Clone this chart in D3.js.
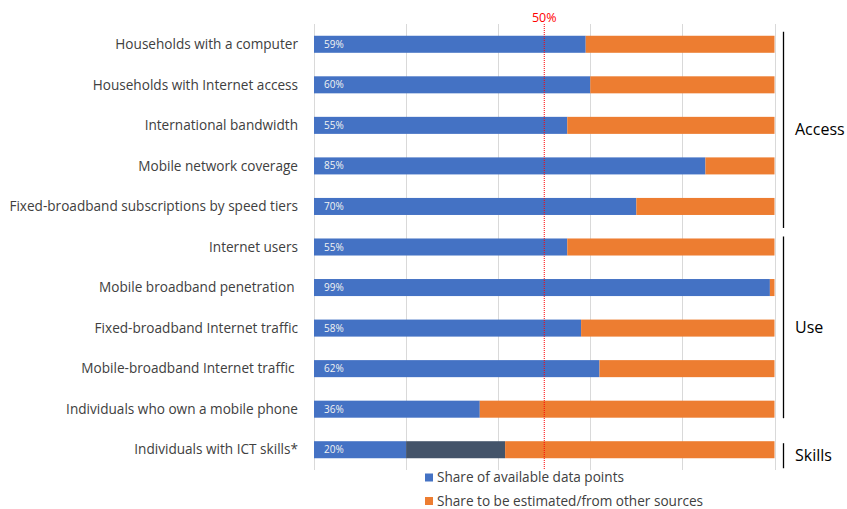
<!DOCTYPE html>
<html>
<head>
<meta charset="utf-8">
<script src="https://cdn.jsdelivr.net/npm/d3@7"></script>
<style>
  body { margin: 0; background: #fff; }
  svg text { font-family: "Open Sans", Lato, sans-serif; }
</style>
</head>
<body>
<div class="chart"></div>
<script>
// categories, top to bottom
var categories = [
  "Households with a computer",
  "Households with Internet access",
  "International bandwidth",
  "Mobile network coverage",
  "Fixed-broadband subscriptions by speed tiers",
  "Internet users",
  "Mobile broadband penetration ",
  "Fixed-broadband Internet traffic",
  "Mobile-broadband Internet traffic ",
  "Individuals who own a mobile phone",
  "Individuals with ICT skills*"
];
// share of available data points (labelled)
var available = [0.59, 0.60, 0.55, 0.85, 0.70, 0.55, 0.99, 0.58, 0.62, 0.36, 0.20];
// extra unlabelled segment (only on the skills row)
var extra = [0, 0, 0, 0, 0, 0, 0, 0, 0, 0, 0.215];
// share to be estimated / from other sources
var estimated = [0.41, 0.40, 0.45, 0.15, 0.30, 0.45, 0.01, 0.42, 0.38, 0.64, 0.585];

var ticks = [0, 0.2, 0.4, 0.6, 0.8, 1];
var groups = [
  {name: "Access", from: 0, to: 4},
  {name: "Use", from: 5, to: 9},
  {name: "Skills", from: 10, to: 10}
];
var legendItems = ["Share of available data points", "Share to be estimated/from other sources"];

var width = 847, height = 509;
var colors = {available: "#4472C4", extra: "#44546A", estimated: "#ED7D31"};

var svg = d3.select(".chart").append("svg")
    .attr("width", width)
    .attr("height", height);

var x = d3.scaleLinear().domain([0, 1]).range([314, 774.5]);
var y = d3.scaleBand().domain(categories).range([24, 470])
    .paddingInner(0.58).paddingOuter(0.29);

// gridlines
svg.append("g").selectAll("line")
    .data(ticks)
    .enter().append("line")
    .attr("x1", function(d){ return Math.round(x(d)) + 0.5; })
    .attr("x2", function(d){ return Math.round(x(d)) + 0.5; })
    .attr("y1", 24).attr("y2", 470)
    .attr("stroke", "#D9D9D9")
    .attr("stroke-width", 1);

// stacked bars
var rows = categories.map(function(c, i){
  return {cat: c, a: available[i], e: extra[i], o: estimated[i]};
});

var bars = svg.append("g").selectAll("g")
    .data(rows)
    .enter().append("g");

bars.append("rect")
    .attr("x", x(0))
    .attr("y", function(d){ return y(d.cat); })
    .attr("width", function(d){ return x(d.a) - x(0); })
    .attr("height", y.bandwidth())
    .attr("fill", colors.available);

bars.append("rect")
    .attr("x", function(d){ return x(d.a); })
    .attr("y", function(d){ return y(d.cat); })
    .attr("width", function(d){ return x(d.a + d.e) - x(d.a); })
    .attr("height", y.bandwidth())
    .attr("fill", colors.extra);

bars.append("rect")
    .attr("x", function(d){ return x(d.a + d.e); })
    .attr("y", function(d){ return y(d.cat); })
    .attr("width", function(d){ return x(d.a + d.e + d.o) - x(d.a + d.e); })
    .attr("height", y.bandwidth())
    .attr("fill", colors.estimated);

// value labels
bars.append("text")
    .attr("x", x(0) + 10)
    .attr("y", function(d){ return y(d.cat) + y.bandwidth() / 2; })
    .attr("dy", "0.35em")
    .attr("font-size", 10)
    .attr("fill", "#F2F2F2")
    .text(function(d){ return Math.round(d.a * 100) + "%"; });

// category labels
svg.append("g").selectAll("text")
    .data(categories)
    .enter().append("text")
    .attr("x", 298)
    .attr("y", function(d){ return y(d) + y.bandwidth() / 2; })
    .attr("dy", "0.35em")
    .attr("text-anchor", "end")
    .attr("font-size", 13.6)
    .attr("fill", "#404040")
    .style("white-space", "pre")
    .text(function(d){ return d; });

// 50% reference line
svg.append("line")
    .attr("x1", x(0.5)).attr("x2", x(0.5))
    .attr("y1", 24).attr("y2", 470)
    .attr("stroke", "#FF0000")
    .attr("stroke-width", 1)
    .attr("stroke-dasharray", "1,1");

svg.append("text")
    .attr("x", x(0.5))
    .attr("y", 22)
    .attr("text-anchor", "middle")
    .attr("font-size", 12.5)
    .attr("fill", "#FF0000")
    .text("50%");

// group brackets (hand-placed look: small per-group nudges around the bands)
var startPad = [-4, -2, 2];
var endPad = [13, 0.5, 10];
var brackets = svg.append("g").selectAll("g")
    .data(groups)
    .enter().append("g");

function groupTop(d, i){ return y(categories[d.from]) + startPad[i]; }
function groupBottom(d, i){ return y(categories[d.to]) + y.bandwidth() + endPad[i]; }

brackets.append("line")
    .attr("x1", 783.5).attr("x2", 783.5)
    .attr("y1", groupTop)
    .attr("y2", groupBottom)
    .attr("stroke", "#000")
    .attr("stroke-width", 1.3);

brackets.append("text")
    .attr("x", 795)
    .attr("y", function(d, i){ return (groupTop(d, i) + groupBottom(d, i)) / 2; })
    .attr("dy", "0.35em")
    .attr("font-size", 16)
    .attr("fill", "#000")
    .text(function(d){ return d.name; });

// legend
var legend = svg.append("g").selectAll("g")
    .data(legendItems)
    .enter().append("g")
    .attr("transform", function(d, i){ return "translate(425," + (477.5 + i * 23.5) + ")"; });

legend.append("rect")
    .attr("x", 0).attr("y", -4)
    .attr("width", 8).attr("height", 8)
    .attr("fill", function(d, i){ return i == 0 ? colors.available : colors.estimated; });

legend.append("text")
    .attr("x", 12)
    .attr("dy", "0.35em")
    .attr("font-size", 13.6)
    .attr("fill", "#404040")
    .text(function(d){ return d; });
</script>
</body>
</html>
